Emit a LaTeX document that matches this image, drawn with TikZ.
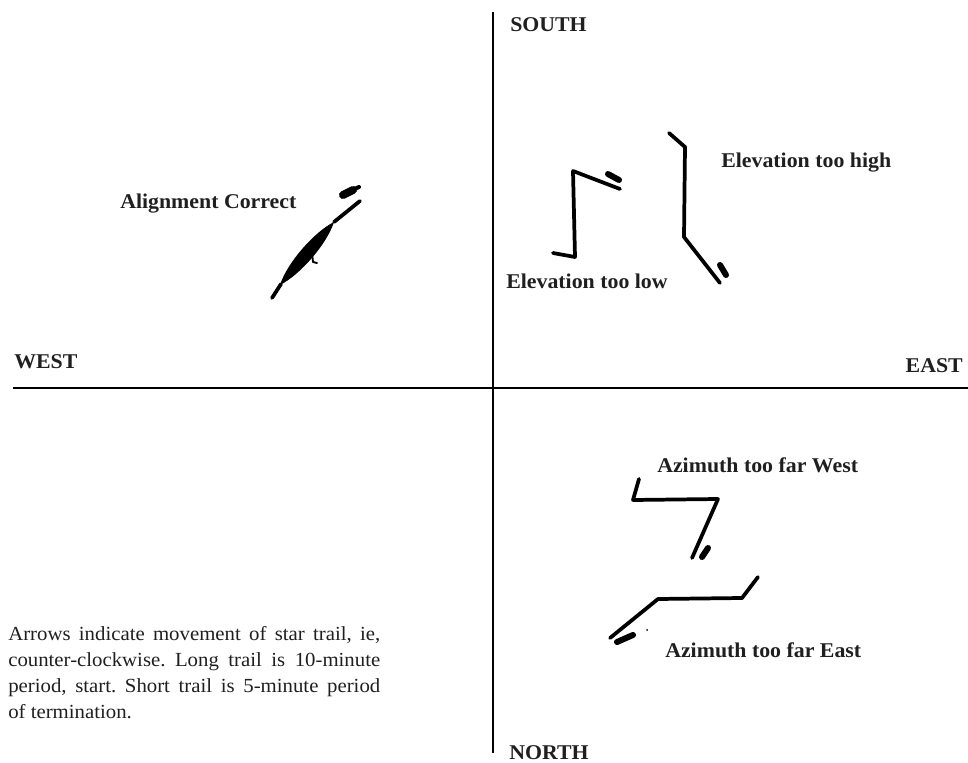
\documentclass[tikz,border=0pt]{standalone}
\usepackage{fontspec}
\setmainfont[FakeStretch=1.04]{Liberation Serif}
\frenchspacing
\begin{document}
\begin{tikzpicture}[x=0.75pt,y=-0.75pt,
  axis/.style={line width=2pt},
  trail/.style={line width=2.8pt, line cap=round, line join=round},
  blob/.style={line width=4.5pt, line cap=round},
  lbl/.style={font=\fontsize{15.75}{18}\selectfont\bfseries, inner sep=0pt, anchor=base west, text=black!88},
  para/.style={font=\fontsize{15}{19.5}\selectfont, inner sep=0pt, anchor=north west, text width=279pt, align=justify, text=black!88}
]
\useasboundingbox (0,0) rectangle (968,763);
% axes
\coordinate (ntop) at (493,12);
\coordinate (nbot) at (493,753);
\coordinate (wleft) at (13,388);
\coordinate (eright) at (968,388);
\draw[axis] (ntop) -- (nbot);
\draw[axis] (wleft) -- (eright);
% direction labels
\node[lbl] (south) at (510,32) {SOUTH};
\node[lbl] (north) at (509,759) {NORTH};
\node[lbl] (west) at (14,368) {WEST};
\node[lbl, anchor=base east] (east) at (963,372) {EAST};
% trail labels
\node[lbl] (align) at (120,209) {Alignment Correct};
\node[lbl] (elhigh) at (721,168) {Elevation too high};
\node[lbl] (ellow) at (506,288) {Elevation too low};
\node[lbl] (azwest) at (657,472) {Azimuth too far West};
\node[lbl] (azeast) at (665,657) {Azimuth too far East};
% alignment correct trail
\draw[trail] (360,201) -- (334,222);
\draw[trail] (281,284) -- (272,298);
\fill (334,222) .. controls (327,244) and (300,275) .. (280,285)
  .. controls (287,263) and (314,232) .. (334,222) -- cycle;
\draw[line width=1.4pt, line cap=round, line join=round] (312,253) -- (313,262) -- (317,263);
\draw[blob, line width=6pt] (343,195) -- (353,190);
\draw[blob, line width=3pt] (350,191) -- (359,187);
% elevation too low
\draw[trail] (553,253) -- (575,257) -- (573,171) -- (620,189);
\draw[blob] (608,174) -- (619,180);
% elevation too high
\draw[trail] (669,133) -- (685,147) -- (684,237) -- (720,283);
\draw[blob] (720,265) -- (726,275);
% azimuth too far west
\draw[trail] (639,479) -- (633,500) -- (718,499) -- (692,558);
\draw[blob] (702,557) -- (708,548);
% azimuth too far east
\draw[trail] (758,577) -- (742,598) -- (658,599) -- (610,638);
\draw[blob] (617,642) -- (633,635);
\fill (647,630) circle (1);
% note
\node[para] (note) at (8,626) {Arrows indicate movement of star trail, ie,\linebreak
counter-clockwise. Long trail is 10-minute\linebreak
period, start. Short trail is 5-minute period\linebreak
of termination.};
\end{tikzpicture}
\end{document}
